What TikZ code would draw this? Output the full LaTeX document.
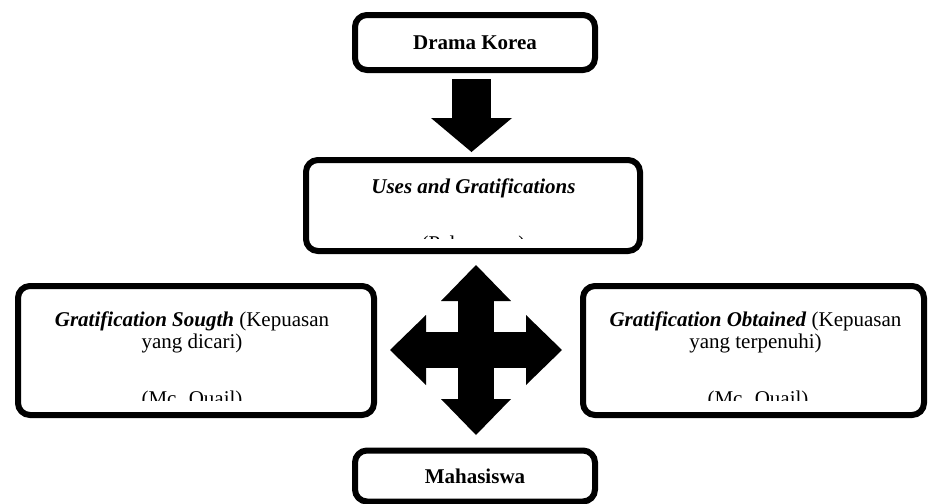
\documentclass[tikz,border=0pt]{standalone}
\usepackage{fontspec}
\setmainfont{Liberation Serif}
\usetikzlibrary{arrows.meta, positioning, calc}
\tikzset{
  dk/box/.style={rectangle, draw=black, fill=white, line width=3pt,
    rounded corners=6pt, inner sep=0pt},
  dk/head/.style={font=\fontsize{10.5}{11}\selectfont\bfseries},
  dk/txt/.style={font=\fontsize{10.5}{11}\selectfont, align=center,
    inner sep=0pt},
  dk/blk/.style={line width=19.5pt,
    -{Triangle[width=40.5pt,length=17pt,line width=0pt]}},
  dk/cross/.style={line width=18pt,
    {Triangle[width=35pt,length=18pt,line width=0pt]}-{Triangle[width=35pt,length=18pt,line width=0pt]}}
}

\begin{document}
\begin{tikzpicture}[x=0.5pt, y=-0.5pt]
  \useasboundingbox (0,0) rectangle (928,504);

  % kotak-kotak
  \node[dk/box, dk/head, minimum width=120pt, minimum height=27.5pt]
        (drama) at (475,42.5) {Drama Korea};
  \node[dk/box, minimum width=167pt, minimum height=45.5pt]
        (uses) at (473,205.5) {};
  \node[dk/box, minimum width=178pt, minimum height=64.5pt]
        (gs) at (196,350.5) {};
  \node[dk/box, minimum width=170.5pt, minimum height=64.5pt]
        (go) at (753.5,350.5) {};
  \node[dk/box, dk/head, minimum width=120pt, minimum height=25.5pt]
        (mhs) at (475,476) {Mahasiswa};

  % teks di dalam kotak
  \node[dk/txt, font=\fontsize{10.5}{11}\selectfont\bfseries\itshape,
        anchor=base] (usesT) at (473.5,193) {Uses and Gratifications};
  \node[dk/txt, anchor=base] (gsT) at (192,348)
        {\textbf{\textit{Gratification Sougth}} (Kepuasan\\yang dicari)};
  \node[dk/txt, anchor=base] (goT) at (755.5,348)
        {\textbf{\textit{Gratification Obtained}} (Kepuasan\\yang terpenuhi)};

  % teks yang terpotong
  \begin{scope}
    \clip (306,160) rectangle (640,238);
    \node[dk/txt, anchor=base] (usesS) at (473.5,250) {(Palmgreen)};
  \end{scope}
  \begin{scope}
    \clip (18,286) rectangle (374,400);
    \node[dk/txt, anchor=base] (gsS) at (192,405) {(Mc. Quail)};
  \end{scope}
  \begin{scope}
    \clip (583,286) rectangle (924,400);
    \node[dk/txt, anchor=base] (goS) at (758,405) {(Mc. Quail)};
  \end{scope}

  % panah
  \draw[dk/blk] ($(drama.south)+(-3.5,6)$) -- ($(drama.south |- uses.north)+(-3.5,-5)$);
  \coordinate (hub) at (476,350);
  \draw[dk/cross] ($(hub)+(0,-85)$) -- ($(hub)+(0,85)$);
  \draw[dk/cross] ($(hub)+(-86,0)$) -- ($(hub)+(86,0)$);
\end{tikzpicture}
\end{document}
